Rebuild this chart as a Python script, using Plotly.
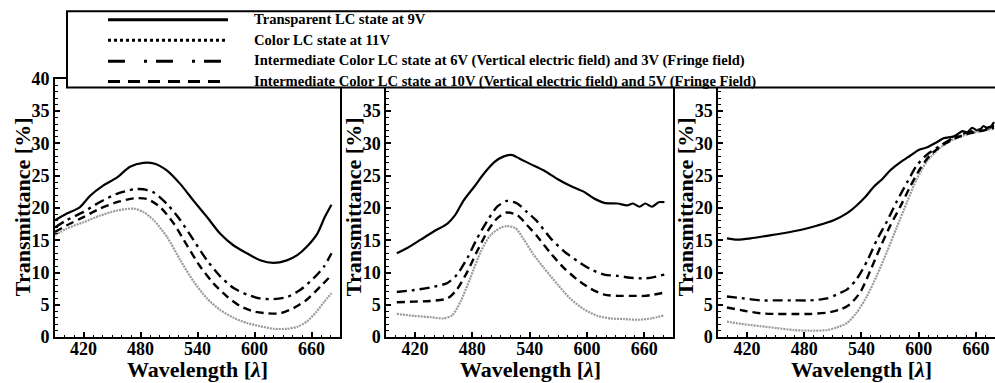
import plotly.graph_objects as go

FONT = "Liberation Serif"
W, H = 995, 383

series_names = [
    "Transparent LC state at 9V",
    "Color LC state at 11V",
    "Intermediate Color LC state at 6V (Vertical electric field) and 3V (Fringe field)",
    "Intermediate Color LC state at 10V (Vertical electric field) and 5V (Fringe Field)",
]
x_tick_vals = [420, 480, 540, 600, 660]
y_tick_vals = [0, 5, 10, 15, 20, 25, 30, 35, 40]
x_title = "Wavelength [<i>λ</i>]"
y_title = "Transmittance [%]"

# ---- Panel 1 ----
p1_transparent_x = [390, 402, 416, 427, 441, 455, 469, 483, 494, 508, 522, 536, 550, 564, 578, 592, 606, 620, 634, 645, 655, 666, 674, 681]
p1_transparent_y = [18.1, 19.1, 20.1, 21.9, 23.5, 24.7, 26.4, 27.0, 26.9, 25.8, 23.7, 21.1, 18.6, 16.0, 14.2, 13.0, 11.9, 11.5, 11.9, 12.7, 14.0, 16.0, 18.6, 20.5]
p1_color_x = [390, 402, 420, 437, 455, 473, 483, 494, 508, 522, 536, 550, 564, 578, 592, 606, 620, 634, 645, 655, 665, 673, 681]
p1_color_y = [15.8, 16.8, 17.8, 18.8, 19.6, 19.9, 19.4, 18.1, 15.5, 11.9, 8.6, 6.0, 4.2, 3.0, 2.2, 1.7, 1.3, 1.3, 1.6, 2.4, 3.9, 5.4, 6.8]
p1_int6_x = [390, 402, 420, 437, 455, 473, 483, 494, 508, 522, 536, 550, 564, 578, 592, 606, 620, 634, 648, 662, 673, 681]
p1_int6_y = [17.0, 18.1, 19.4, 20.9, 22.2, 22.9, 22.9, 22.4, 20.6, 18.1, 15.0, 11.9, 9.4, 7.6, 6.6, 6.0, 5.9, 6.2, 7.3, 9.1, 10.9, 13.0]
p1_int10_x = [390, 402, 420, 437, 455, 473, 487, 501, 515, 529, 543, 557, 571, 585, 599, 613, 627, 641, 655, 669, 681]
p1_int10_y = [16.3, 17.3, 18.6, 19.9, 20.9, 21.5, 21.4, 20.1, 17.6, 14.2, 10.9, 8.3, 6.3, 4.8, 4.0, 3.7, 3.7, 4.5, 5.8, 7.8, 9.6]

# ---- Panel 2 ----
p2_transparent_x = [401, 412, 426, 440, 454, 462, 471, 482, 492, 503, 513, 522, 530, 541, 555, 569, 583, 597, 607, 618, 632, 642, 648, 655, 661, 668, 675, 681]
p2_transparent_y = [13.0, 13.8, 15.1, 16.4, 17.6, 18.9, 21.2, 23.3, 25.3, 27.1, 28.0, 28.2, 27.6, 26.8, 25.8, 24.5, 23.4, 22.5, 21.5, 20.8, 20.7, 20.4, 20.7, 20.2, 20.7, 20.2, 20.9, 20.9]
p2_color_x = [401, 419, 436, 450, 459, 468, 478, 489, 499, 509, 516, 525, 534, 544, 555, 569, 583, 597, 611, 625, 639, 653, 667, 681]
p2_color_y = [3.6, 3.3, 3.1, 2.9, 3.4, 5.6, 9.2, 13.3, 15.8, 16.9, 17.2, 16.9, 15.1, 12.8, 10.7, 8.2, 5.9, 4.3, 3.3, 2.9, 2.8, 2.7, 2.9, 3.4]
p2_int6_x = [401, 419, 436, 454, 464, 475, 485, 496, 506, 516, 527, 537, 548, 562, 576, 590, 604, 618, 632, 646, 660, 670, 681]
p2_int6_y = [7.0, 7.3, 7.7, 8.4, 9.7, 12.3, 15.3, 18.1, 20.2, 21.1, 20.7, 19.4, 17.9, 15.3, 13.3, 11.8, 10.5, 9.7, 9.5, 9.2, 9.1, 9.3, 9.7]
p2_int10_x = [401, 419, 436, 454, 464, 475, 485, 496, 506, 516, 527, 537, 548, 562, 576, 590, 604, 618, 632, 646, 660, 670, 681]
p2_int10_y = [5.4, 5.5, 5.6, 6.0, 7.4, 10.2, 13.3, 16.4, 18.4, 19.3, 18.9, 17.4, 15.6, 13.0, 10.7, 8.9, 7.5, 6.6, 6.4, 6.4, 6.4, 6.6, 6.9]

# ---- Panel 3 ----
p3_transparent_x = [399, 410, 424, 441, 458, 476, 494, 511, 525, 535, 544, 553, 562, 570, 581, 591, 600, 609, 618, 626, 637, 646, 651, 656, 663, 668, 673, 679]
p3_transparent_y = [15.3, 15.1, 15.3, 15.7, 16.1, 16.6, 17.3, 18.1, 19.2, 20.4, 21.7, 23.3, 24.5, 25.8, 27.1, 28.1, 29.0, 29.4, 30.1, 30.8, 31.1, 31.9, 31.7, 32.4, 31.9, 32.7, 32.2, 33.3]
p3_color_x = [399, 417, 434, 452, 469, 486, 504, 514, 525, 535, 546, 556, 567, 577, 588, 598, 609, 623, 637, 651, 665, 679]
p3_color_y = [2.4, 2.0, 1.7, 1.4, 1.1, 1.0, 1.1, 1.5, 2.2, 3.8, 6.4, 9.5, 13.3, 17.0, 21.0, 24.5, 27.3, 29.4, 30.7, 31.4, 31.9, 32.4]
p3_int6_x = [399, 417, 434, 452, 469, 486, 504, 514, 525, 535, 546, 556, 567, 577, 588, 598, 609, 623, 637, 651, 665, 679]
p3_int6_y = [6.3, 6.0, 5.7, 5.7, 5.7, 5.7, 6.0, 6.6, 7.4, 9.0, 11.8, 15.0, 18.0, 21.0, 24.0, 26.6, 28.3, 29.7, 30.9, 31.7, 32.2, 32.7]
p3_int10_x = [399, 417, 434, 452, 469, 486, 504, 518, 528, 539, 549, 560, 570, 581, 591, 602, 612, 626, 640, 654, 668, 679]
p3_int10_y = [4.6, 4.1, 3.7, 3.6, 3.6, 3.6, 3.8, 4.3, 5.1, 7.0, 10.2, 14.0, 17.2, 20.3, 23.3, 26.2, 28.2, 29.8, 30.9, 31.6, 32.0, 32.4]

panels = [
    [(p1_transparent_x, p1_transparent_y), (p1_color_x, p1_color_y), (p1_int6_x, p1_int6_y), (p1_int10_x, p1_int10_y)],
    [(p2_transparent_x, p2_transparent_y), (p2_color_x, p2_color_y), (p2_int6_x, p2_int6_y), (p2_int10_x, p2_int10_y)],
    [(p3_transparent_x, p3_transparent_y), (p3_color_x, p3_color_y), (p3_int6_x, p3_int6_y), (p3_int10_x, p3_int10_y)],
]

styles = [
    dict(color="black", width=2.2, dash="solid"),
    dict(color="#9a9a9a", width=2.2, dash="2px,1px"),
    dict(color="black", width=2.4, dash="10px,5px,3px,5px"),
    dict(color="black", width=2.4, dash="8px,5px"),
]
legend_styles = [
    dict(color="black", width=3, dash="solid"),
    dict(color="black", width=3, dash="3px,3px"),
    dict(color="black", width=3, dash="17px,19px,3px,9px"),
    dict(color="black", width=3, dash="12px,8px"),
]

# the page photo comes out vertically compressed (offset ~8px, scale ~0.951);
# map the wanted on-screen pixel row to a paper fraction accordingly
Y_OFF, Y_SCALE = 8.2, 0.951


def ypaper(ypx):
    return 1 - ((ypx - Y_OFF) / Y_SCALE) / H


# layout geometry (pixels)
px_dom = [(55, 340), (386.3, 673), (718.3, 995)]
x_ranges = [[390, 690], [390, 690], [390, 680]]
y_bottom_px, y_top_px = 336.5, 77.3

fig = go.Figure()
for i, series in enumerate(panels):
    ax = "" if i == 0 else str(i + 1)
    for j, (xs, ys) in enumerate(series):
        fig.add_trace(go.Scatter(
            x=xs, y=ys, mode="lines", name=series_names[j], showlegend=False,
            line=dict(shape="spline", smoothing=0.7, **styles[j]),
            xaxis="x" + ax, yaxis="y" + ax, hoverinfo="skip",
        ))

tickfont = dict(family=FONT, size=18, color="black", weight="bold")
layout = dict(
    width=W, height=H, autosize=False, margin=dict(l=0, r=0, t=0, b=0, pad=0),
    paper_bgcolor="white", plot_bgcolor="white", showlegend=False,
)
for i in range(3):
    ax = "" if i == 0 else str(i + 1)
    x0, x1 = px_dom[i]
    mirror = True if i < 2 else False
    layout["xaxis" + ax] = dict(
        domain=[x0 / W, min(x1 / W, 1.0)], range=x_ranges[i], anchor="y" + ax,
        showline=True, linecolor="black", linewidth=2, mirror=mirror,
        showgrid=False, zeroline=False,
        tickmode="array", tickvals=x_tick_vals, ticks="inside", ticklen=5, tickwidth=1.5,
        tickcolor="black", tickfont=tickfont, ticklabelstandoff=-6,
        minor=dict(dtick=10, tick0=390, ticks="inside", ticklen=2.5, tickwidth=1, tickcolor="black"),
    )
    layout["yaxis" + ax] = dict(
        domain=[ypaper(y_bottom_px), ypaper(y_top_px)], range=[0, 40], anchor="x" + ax,
        showline=True, linecolor="black", linewidth=2, mirror=mirror,
        showgrid=False, zeroline=False,
        tickmode="array", tickvals=(y_tick_vals if i == 0 else y_tick_vals[:-1]),
        ticks="inside", ticklen=5, tickwidth=1.5,
        tickcolor="black", tickfont=tickfont,
        minor=dict(dtick=1, tick0=0, ticks="inside", ticklen=2.5, tickwidth=1, tickcolor="black"),
    )
fig.update_layout(**layout)

title_font = dict(family=FONT, size=22, color="black", weight="bold")
annotations = []
xtitle_cx = [197.5, 530, 861]
ytitle_cx = [22, 353, 685]
for i in range(3):
    annotations.append(dict(
        xref="paper", yref="paper", x=xtitle_cx[i] / W, y=ypaper(369),
        text=x_title, showarrow=False, xanchor="center", yanchor="middle", font=title_font,
    ))
    annotations.append(dict(
        xref="paper", yref="paper", x=ytitle_cx[i] / W, y=ypaper(206),
        text=y_title, showarrow=False, xanchor="center", yanchor="middle",
        textangle=-90, font=title_font,
    ))

# Custom legend box
shapes = [dict(
    type="rect", xref="paper", yref="paper", layer="above",
    x0=67 / W, x1=1.02, y0=ypaper(86), y1=1 - 1.2 / H,
    line=dict(color="black", width=2), fillcolor="white",
)]
row_y = [18, 38.5, 59.5, 80]
for j in range(4):
    shapes.append(dict(
        type="line", xref="paper", yref="paper", layer="above",
        x0=108 / W, x1=228 / W, y0=ypaper(row_y[j]), y1=ypaper(row_y[j]),
        line=legend_styles[j],
    ))
    annotations.append(dict(
        xref="paper", yref="paper", x=252 / W, y=ypaper(row_y[j] - 0.5),
        text=series_names[j], showarrow=False, xanchor="left", yanchor="middle",
        font=dict(family=FONT, size=14.6, color="black", weight="bold"),
    ))

fig.update_layout(shapes=shapes, annotations=annotations)
fig.write_html("out.html", config={"responsive": False})
